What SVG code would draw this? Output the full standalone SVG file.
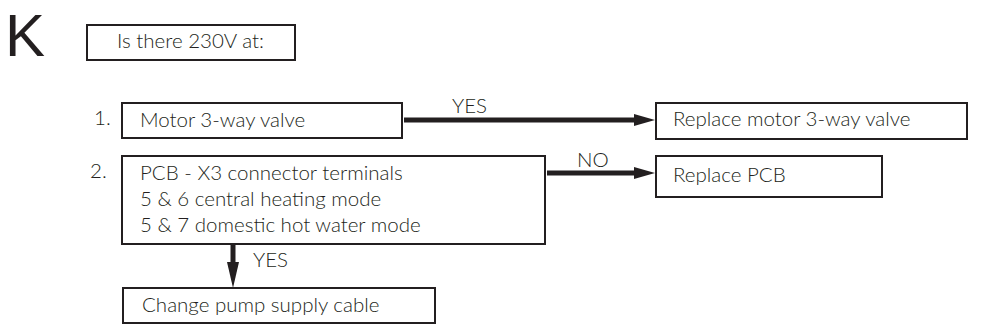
<svg xmlns="http://www.w3.org/2000/svg" width="981" height="332" viewBox="0 0 981 332">
<defs>
<style>
text{font-family:Lato,"Open Sans","Liberation Sans",sans-serif;font-weight:300;fill:#231f20;font-size:20.5px}
.box{fill:#fff;stroke:#231f20;stroke-width:2}
.conn{stroke:#231f20;stroke-width:5;fill:none}
.head{fill:#231f20}
</style>
</defs>
<text x="5" y="56" style="font-family:'Liberation Sans',Arial,sans-serif;font-weight:400;font-size:60px">K</text>
<g id="n0"><rect class="box" x="87" y="25" width="208" height="35"/><text x="117" y="48">Is there 230V at:</text></g>
<text x="94" y="125">1.</text>
<text x="90" y="178">2.</text>
<g id="n1"><rect class="box" x="122" y="103" width="280" height="35"/><text x="140" y="127">Motor 3-way valve</text></g>
<g id="n2"><rect class="box" x="656" y="103" width="311" height="36"/><text x="673" y="126">Replace motor 3-way valve</text></g>
<g id="n3"><rect class="box" x="122" y="156" width="423" height="88"/><text x="140" y="180">PCB - X3 connector terminals</text><text x="140" y="206">5 &amp; 6 central heating mode</text><text x="140" y="232">5 &amp; 7 domestic hot water mode</text></g>
<g id="n4"><rect class="box" x="656" y="156" width="226" height="41"/><text x="673" y="182">Replace PCB</text></g>
<g id="n5"><rect class="box" x="123" y="288" width="312" height="35"/><text x="142" y="312">Change pump supply cable</text></g>
<g id="connectors">
<line class="conn" x1="404" y1="120" x2="638" y2="120"/><polygon class="head" points="634,114 655,120 634,126"/>
<text x="452" y="113">YES</text>
<line class="conn" x1="547" y1="173" x2="638" y2="173"/><polygon class="head" points="634,167 655,173 634,179"/>
<text x="577" y="167">NO</text>
<line class="conn" x1="233" y1="245" x2="233" y2="266"/><polygon class="head" points="227,262 233,288 239,262"/>
<text x="253" y="267">YES</text>
</g>
</svg>
